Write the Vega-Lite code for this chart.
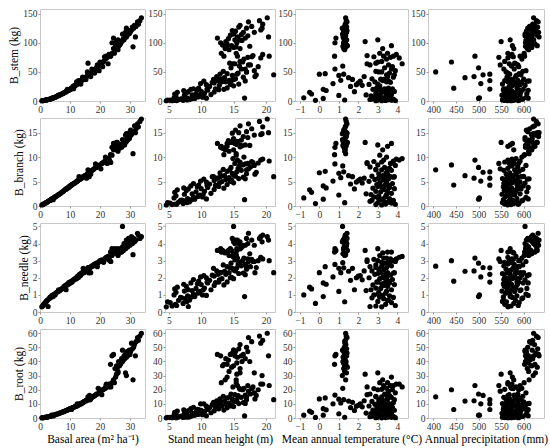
{
"$schema":"https://vega.github.io/schema/vega-lite/v6.json",
"padding":{"left":8,"top":8,"right":0,"bottom":5},
"bounds":"flush",
"spacing":{"row":17,"column":20},
"config":{"font":"Liberation Serif","view":{"stroke":"#c8c8c8"},
"axis":{"domain":false,"grid":false,"tickSize":2,"tickColor":"#999","labelFontSize":9.5,"labelColor":"#333","labelPadding":1,"labelFlush":false,"labelOverlap":false,"titleFontSize":11.5,"titleFontWeight":"normal","titleColor":"#000","titlePadding":3},
"circle":{"size":27,"color":"#000","opacity":1}},
"data":{"values":[
{"ba":33.8,"h":20.2,"mat":1.35,"ap":622,"stem":143,"branch":17.8,"needle":4.4,"root":60},
{"ba":33.3,"h":19.0,"mat":1.38,"ap":628,"stem":138,"branch":17.3,"needle":4.3,"root":58},
{"ba":32.8,"h":19.5,"mat":1.33,"ap":620,"stem":132,"branch":16.2,"needle":4.5,"root":55},
{"ba":32.0,"h":17.8,"mat":1.30,"ap":613,"stem":128,"branch":15.8,"needle":4.2,"root":54},
{"ba":31.5,"h":16.0,"mat":1.36,"ap":624,"stem":130,"branch":16.4,"needle":4.1,"root":52},
{"ba":31.2,"h":17.0,"mat":1.28,"ap":609,"stem":125,"branch":15.2,"needle":4.3,"root":50},
{"ba":30.8,"h":15.8,"mat":1.40,"ap":631,"stem":127,"branch":15.0,"needle":4.0,"root":49},
{"ba":30.5,"h":19.2,"mat":1.32,"ap":617,"stem":122,"branch":14.6,"needle":4.4,"root":53},
{"ba":30.2,"h":15.3,"mat":1.25,"ap":606,"stem":120,"branch":15.5,"needle":4.2,"root":47},
{"ba":30.0,"h":16.5,"mat":1.38,"ap":633,"stem":118,"branch":14.2,"needle":3.9,"root":45},
{"ba":29.8,"h":15.0,"mat":1.30,"ap":619,"stem":116,"branch":13.8,"needle":4.1,"root":48},
{"ba":29.5,"h":14.8,"mat":1.42,"ap":627,"stem":121,"branch":14.9,"needle":4.3,"root":46},
{"ba":29.2,"h":16.2,"mat":1.27,"ap":611,"stem":114,"branch":13.5,"needle":3.8,"root":44},
{"ba":29.0,"h":17.2,"mat":1.35,"ap":603,"stem":112,"branch":14.0,"needle":4.0,"root":47},
{"ba":28.8,"h":15.6,"mat":1.22,"ap":618,"stem":110,"branch":13.2,"needle":4.2,"root":43},
{"ba":28.5,"h":14.5,"mat":1.33,"ap":629,"stem":113,"branch":13.0,"needle":3.7,"root":45},
{"ba":28.2,"h":16.8,"mat":1.30,"ap":607,"stem":108,"branch":12.5,"needle":3.9,"root":42},
{"ba":28.0,"h":15.2,"mat":1.40,"ap":622,"stem":105,"branch":12.8,"needle":4.0,"root":44},
{"ba":27.8,"h":14.2,"mat":1.26,"ap":614,"stem":107,"branch":13.4,"needle":3.6,"root":41},
{"ba":27.5,"h":16.3,"mat":1.37,"ap":605,"stem":104,"branch":12.3,"needle":3.8,"root":40},
{"ba":27.2,"h":13.8,"mat":1.31,"ap":620,"stem":102,"branch":12.0,"needle":3.5,"root":42},
{"ba":27.0,"h":15.5,"mat":1.24,"ap":610,"stem":100,"branch":12.6,"needle":3.7,"root":39},
{"ba":26.8,"h":14.0,"mat":1.36,"ap":625,"stem":98,"branch":12.2,"needle":3.5,"root":38},
{"ba":26.5,"h":13.3,"mat":1.29,"ap":616,"stem":96,"branch":11.8,"needle":3.6,"root":37},
{"ba":26.2,"h":17.5,"mat":1.21,"ap":604,"stem":94,"branch":12.4,"needle":3.4,"root":40},
{"ba":25.8,"h":14.7,"mat":1.44,"ap":630,"stem":95,"branch":13.0,"needle":3.6,"root":36},
{"ba":25.5,"h":15.0,"mat":1.33,"ap":618,"stem":92,"branch":11.5,"needle":3.4,"root":37},
{"ba":25.0,"h":16.0,"mat":1.25,"ap":608,"stem":90,"branch":12.1,"needle":3.7,"root":35},
{"ba":31.8,"h":20.4,"mat":1.28,"ap":634,"stem":110,"branch":15.0,"needle":4.2,"root":44},
{"ba":31.0,"h":15.4,"mat":1.35,"ap":612,"stem":93,"branch":10.7,"needle":3.35,"root":27},
{"ba":28.5,"h":18.2,"mat":1.39,"ap":626,"stem":118,"branch":14.5,"needle":3.9,"root":32},
{"ba":28.8,"h":19.4,"mat":1.18,"ap":621,"stem":125,"branch":14.8,"needle":4.1,"root":30},
{"ba":24.5,"h":12.5,"mat":0.85,"ap":607,"stem":108,"branch":12.8,"needle":3.6,"root":45},
{"ba":24.0,"h":13.0,"mat":0.80,"ap":604,"stem":100,"branch":12.0,"needle":3.7,"root":44},
{"ba":23.5,"h":13.5,"mat":0.78,"ap":602,"stem":77,"branch":10.5,"needle":3.5,"root":38},
{"ba":26.0,"h":14.3,"mat":1.30,"ap":611,"stem":88,"branch":11.2,"needle":3.3,"root":33},
{"ba":32.5,"h":17.3,"mat":1.42,"ap":632,"stem":136,"branch":16.8,"needle":4.6,"root":57},
{"ba":27.5,"h":15.0,"mat":1.19,"ap":603,"stem":115,"branch":13.6,"needle":5.0,"root":48},
{"ba":0.6,"h":4.6,"mat":3.2,"ap":565,"stem":0.4,"branch":0.2,"needle":0.30,"root":0.1},
{"ba":0.9,"h":5.5,"mat":2.9,"ap":572,"stem":0.6,"branch":0.3,"needle":0.35,"root":0.2},
{"ba":1.2,"h":6.0,"mat":3.4,"ap":558,"stem":0.9,"branch":0.4,"needle":0.45,"root":0.3},
{"ba":1.5,"h":7.2,"mat":-0.2,"ap":578,"stem":1.2,"branch":0.5,"needle":0.50,"root":0.4},
{"ba":1.8,"h":5.2,"mat":3.7,"ap":590,"stem":1.5,"branch":0.6,"needle":0.55,"root":0.5},
{"ba":2.1,"h":7.8,"mat":3.0,"ap":553,"stem":1.8,"branch":0.7,"needle":0.62,"root":0.6},
{"ba":2.4,"h":6.5,"mat":3.5,"ap":582,"stem":2.2,"branch":0.8,"needle":0.68,"root":0.7},
{"ba":2.7,"h":8.0,"mat":2.6,"ap":566,"stem":2.6,"branch":0.95,"needle":0.32,"root":0.9},
{"ba":3.0,"h":7.5,"mat":3.3,"ap":596,"stem":3.0,"branch":1.05,"needle":0.78,"root":1.0},
{"ba":3.3,"h":6.8,"mat":3.8,"ap":575,"stem":3.4,"branch":1.15,"needle":0.85,"root":1.2},
{"ba":3.6,"h":8.5,"mat":3.1,"ap":555,"stem":3.9,"branch":1.3,"needle":0.88,"root":1.4},
{"ba":3.9,"h":9.0,"mat":0.2,"ap":500,"stem":4.4,"branch":1.4,"needle":0.90,"root":2.0},
{"ba":4.2,"h":7.9,"mat":3.6,"ap":585,"stem":5.0,"branch":1.5,"needle":0.95,"root":1.8},
{"ba":4.5,"h":5.8,"mat":-0.8,"ap":502,"stem":5.5,"branch":1.65,"needle":1.0,"root":2.0},
{"ba":4.8,"h":8.8,"mat":3.0,"ap":605,"stem":6.0,"branch":1.75,"needle":1.05,"root":2.2},
{"ba":5.0,"h":10.2,"mat":2.8,"ap":570,"stem":6.5,"branch":1.85,"needle":1.0,"root":2.3},
{"ba":5.3,"h":9.5,"mat":3.4,"ap":560,"stem":7.0,"branch":1.95,"needle":1.1,"root":2.5},
{"ba":2.0,"h":4.8,"mat":1.3,"ap":562,"stem":1.7,"branch":0.68,"needle":0.6,"root":0.55},
{"ba":1.0,"h":6.2,"mat":3.9,"ap":588,"stem":0.7,"branch":0.35,"needle":0.38,"root":0.2},
{"ba":3.5,"h":7.0,"mat":2.7,"ap":598,"stem":3.6,"branch":1.2,"needle":0.83,"root":1.3},
{"ba":4.0,"h":10.8,"mat":3.25,"ap":610,"stem":4.8,"branch":1.45,"needle":0.97,"root":1.6},
{"ba":2.5,"h":8.2,"mat":3.55,"ap":555,"stem":2.4,"branch":0.85,"needle":0.7,"root":0.8},
{"ba":4.4,"h":16.7,"mat":3.1,"ap":570,"stem":5.0,"branch":1.3,"needle":0.9,"root":1.5},
{"ba":5.6,"h":6.1,"mat":3.05,"ap":568,"stem":7.8,"branch":2.1,"needle":1.15,"root":2.7},
{"ba":6.0,"h":9.8,"mat":1.0,"ap":580,"stem":9.5,"branch":2.25,"needle":1.2,"root":3.0},
{"ba":6.3,"h":7.4,"mat":3.45,"ap":552,"stem":10.0,"branch":2.4,"needle":1.22,"root":3.3},
{"ba":6.6,"h":8.6,"mat":2.4,"ap":592,"stem":10.5,"branch":2.5,"needle":1.25,"root":3.5},
{"ba":6.9,"h":11.5,"mat":3.7,"ap":571,"stem":11.0,"branch":2.6,"needle":1.3,"root":3.7},
{"ba":7.2,"h":5.9,"mat":-0.4,"ap":563,"stem":12.0,"branch":2.8,"needle":1.35,"root":4.0},
{"ba":7.5,"h":9.2,"mat":3.15,"ap":607,"stem":12.5,"branch":2.9,"needle":1.38,"root":4.2},
{"ba":7.8,"h":10.5,"mat":2.9,"ap":583,"stem":13.5,"branch":3.0,"needle":1.4,"root":4.5},
{"ba":8.0,"h":7.7,"mat":3.5,"ap":557,"stem":14.0,"branch":3.15,"needle":1.5,"root":4.6},
{"ba":8.3,"h":6.3,"mat":-0.5,"ap":577,"stem":15.0,"branch":3.3,"needle":1.45,"root":4.9},
{"ba":8.5,"h":12.0,"mat":3.3,"ap":566,"stem":15.5,"branch":3.4,"needle":1.55,"root":5.1},
{"ba":8.7,"h":8.0,"mat":1.8,"ap":594,"stem":16.0,"branch":3.5,"needle":1.3,"root":5.3},
{"ba":8.9,"h":10.0,"mat":3.85,"ap":586,"stem":16.5,"branch":3.55,"needle":1.6,"root":5.5},
{"ba":9.1,"h":13.5,"mat":2.75,"ap":560,"stem":20.0,"branch":3.65,"needle":1.58,"root":5.6},
{"ba":9.3,"h":7.3,"mat":0.35,"ap":573,"stem":18.0,"branch":3.7,"needle":1.62,"root":5.8},
{"ba":9.5,"h":11.0,"mat":3.6,"ap":610,"stem":18.5,"branch":3.8,"needle":1.7,"root":6.0},
{"ba":9.7,"h":9.4,"mat":3.2,"ap":555,"stem":19.0,"branch":3.9,"needle":1.65,"root":6.2},
{"ba":9.9,"h":12.7,"mat":3.0,"ap":589,"stem":19.5,"branch":4.0,"needle":1.75,"root":6.5},
{"ba":10.0,"h":8.4,"mat":0.2,"ap":599,"stem":20.0,"branch":4.1,"needle":1.7,"root":6.6},
{"ba":6.2,"h":10.3,"mat":2.65,"ap":578,"stem":9.0,"branch":2.35,"needle":1.3,"root":3.2},
{"ba":10.3,"h":12.2,"mat":3.35,"ap":562,"stem":21,"branch":4.2,"needle":1.72,"root":6.9},
{"ba":10.5,"h":9.6,"mat":3.55,"ap":445,"stem":22,"branch":4.3,"needle":1.8,"root":6.0},
{"ba":10.7,"h":14.0,"mat":2.95,"ap":585,"stem":22.5,"branch":4.4,"needle":1.76,"root":7.2},
{"ba":11.0,"h":11.3,"mat":1.6,"ap":568,"stem":25,"branch":4.5,"needle":1.85,"root":7.4},
{"ba":11.2,"h":8.8,"mat":3.75,"ap":556,"stem":21,"branch":4.6,"needle":1.9,"root":7.6},
{"ba":11.5,"h":12.8,"mat":2.2,"ap":603,"stem":27,"branch":4.7,"needle":1.88,"root":7.9},
{"ba":11.7,"h":15.0,"mat":3.1,"ap":574,"stem":26,"branch":4.75,"needle":1.95,"root":8.1},
{"ba":12.0,"h":10.8,"mat":1.9,"ap":592,"stem":28,"branch":4.9,"needle":2.0,"root":8.4},
{"ba":12.2,"h":13.2,"mat":3.45,"ap":565,"stem":33,"branch":5.0,"needle":1.95,"root":8.6},
{"ba":12.4,"h":9.9,"mat":0.7,"ap":505,"stem":30,"branch":5.1,"needle":2.05,"root":10.0},
{"ba":12.6,"h":12.0,"mat":2.0,"ap":580,"stem":31,"branch":5.2,"needle":2.1,"root":9.0},
{"ba":12.8,"h":14.7,"mat":3.25,"ap":558,"stem":35,"branch":5.3,"needle":2.02,"root":9.2},
{"ba":13.0,"h":11.7,"mat":3.65,"ap":596,"stem":32,"branch":6.0,"needle":2.15,"root":9.4},
{"ba":13.2,"h":13.8,"mat":2.85,"ap":570,"stem":33,"branch":5.4,"needle":2.2,"root":9.7},
{"ba":13.4,"h":10.4,"mat":2.1,"ap":608,"stem":34,"branch":5.5,"needle":2.12,"root":10.0},
{"ba":13.6,"h":15.8,"mat":3.0,"ap":553,"stem":29,"branch":5.6,"needle":2.25,"root":10.2},
{"ba":13.8,"h":12.6,"mat":3.4,"ap":525,"stem":35,"branch":5.7,"needle":2.2,"root":10.0},
{"ba":14.0,"h":14.3,"mat":1.1,"ap":587,"stem":35.5,"branch":5.8,"needle":2.3,"root":10.6},
{"ba":14.2,"h":16.5,"mat":3.8,"ap":563,"stem":41,"branch":5.9,"needle":2.28,"root":10.9},
{"ba":14.4,"h":11.9,"mat":1.7,"ap":576,"stem":37,"branch":6.0,"needle":2.55,"root":11.1},
{"ba":14.6,"h":13.0,"mat":3.15,"ap":600,"stem":37.5,"branch":6.05,"needle":2.3,"root":11.4},
{"ba":14.8,"h":15.3,"mat":2.7,"ap":567,"stem":38,"branch":6.1,"needle":2.4,"root":11.7},
{"ba":10.4,"h":10.9,"mat":3.5,"ap":525,"stem":20.5,"branch":4.25,"needle":1.75,"root":6.0},
{"ba":12.3,"h":14.5,"mat":2.55,"ap":582,"stem":28.5,"branch":5.05,"needle":2.0,"root":8.5},
{"ba":13.5,"h":16.8,"mat":3.55,"ap":612,"stem":34.5,"branch":5.55,"needle":2.18,"root":10.3},
{"ba":15.0,"h":13.6,"mat":1.5,"ap":470,"stem":40,"branch":6.2,"needle":2.38,"root":12.0},
{"ba":15.3,"h":15.0,"mat":3.3,"ap":572,"stem":37,"branch":6.3,"needle":2.45,"root":12.4},
{"ba":15.5,"h":12.4,"mat":2.3,"ap":490,"stem":42,"branch":5.7,"needle":2.4,"root":12.2},
{"ba":15.8,"h":17.0,"mat":3.05,"ap":561,"stem":50,"branch":6.6,"needle":2.5,"root":13.0},
{"ba":16.0,"h":14.8,"mat":1.0,"ap":584,"stem":44,"branch":6.7,"needle":2.55,"root":13.3},
{"ba":16.2,"h":12.9,"mat":0.0,"ap":569,"stem":46,"branch":6.8,"needle":2.3,"root":13.5},
{"ba":16.5,"h":18.5,"mat":3.45,"ap":510,"stem":45,"branch":6.9,"needle":2.6,"root":16.0},
{"ba":16.7,"h":15.5,"mat":1.25,"ap":525,"stem":46,"branch":7.0,"needle":2.58,"root":13.0},
{"ba":17.0,"h":14.0,"mat":0.3,"ap":590,"stem":47,"branch":7.1,"needle":2.65,"root":14.2},
{"ba":17.3,"h":16.2,"mat":3.7,"ap":556,"stem":55,"branch":7.3,"needle":2.7,"root":14.6},
{"ba":17.6,"h":17.0,"mat":3.2,"ap":405,"stem":50,"branch":7.4,"needle":2.68,"root":15.0},
{"ba":17.9,"h":13.4,"mat":2.9,"ap":598,"stem":51,"branch":7.5,"needle":2.75,"root":15.4},
{"ba":18.2,"h":15.7,"mat":3.6,"ap":565,"stem":48,"branch":7.7,"needle":2.8,"root":15.8},
{"ba":18.5,"h":16.8,"mat":0.8,"ap":579,"stem":55,"branch":8.6,"needle":2.78,"root":16.2},
{"ba":18.8,"h":14.6,"mat":3.35,"ap":500,"stem":57,"branch":7.9,"needle":2.85,"root":17.0},
{"ba":19.1,"h":17.6,"mat":2.6,"ap":587,"stem":62,"branch":8.0,"needle":2.65,"root":17.0},
{"ba":19.4,"h":15.9,"mat":1.2,"ap":573,"stem":60,"branch":8.2,"needle":2.88,"root":21.0},
{"ba":19.7,"h":18.2,"mat":3.9,"ap":605,"stem":52,"branch":8.3,"needle":2.95,"root":17.8},
{"ba":16.4,"h":21.2,"mat":3.85,"ap":594,"stem":45,"branch":6.0,"needle":2.3,"root":13.0},
{"ba":16.9,"h":18.3,"mat":3.5,"ap":582,"stem":42,"branch":6.5,"needle":2.3,"root":13.5},
{"ba":20.0,"h":16.4,"mat":3.0,"ap":440,"stem":67,"branch":8.4,"needle":3.0,"root":20.0},
{"ba":20.3,"h":17.3,"mat":3.55,"ap":548,"stem":62,"branch":7.6,"needle":2.95,"root":19.0},
{"ba":20.6,"h":15.2,"mat":2.45,"ap":568,"stem":64,"branch":8.7,"needle":3.05,"root":16.5},
{"ba":20.9,"h":18.8,"mat":3.75,"ap":589,"stem":59,"branch":8.8,"needle":3.0,"root":20.0},
{"ba":21.2,"h":16.0,"mat":3.2,"ap":558,"stem":68,"branch":9.0,"needle":2.9,"root":20.3},
{"ba":21.5,"h":17.8,"mat":2.8,"ap":577,"stem":76,"branch":9.1,"needle":3.08,"root":20.8},
{"ba":21.8,"h":16.6,"mat":3.45,"ap":596,"stem":72,"branch":10.0,"needle":3.15,"root":21.0},
{"ba":22.1,"h":19.2,"mat":4.1,"ap":565,"stem":74,"branch":9.4,"needle":3.2,"root":24.0},
{"ba":22.4,"h":17.2,"mat":3.65,"ap":545,"stem":75,"branch":8.7,"needle":3.1,"root":23.0},
{"ba":22.7,"h":14.9,"mat":4.25,"ap":583,"stem":64,"branch":9.7,"needle":3.25,"root":22.0},
{"ba":23.0,"h":19.5,"mat":3.95,"ap":574,"stem":80,"branch":9.6,"needle":3.1,"root":24.0},
{"ba":23.3,"h":20.5,"mat":3.8,"ap":592,"stem":77,"branch":9.2,"needle":3.0,"root":23.0},
{"ba":22.0,"h":15.6,"mat":3.3,"ap":492,"stem":77,"branch":9.4,"needle":3.15,"root":23.0},
{"ba":16.0,"h":14.4,"mat":2.9,"ap":580,"stem":65,"branch":7.4,"needle":2.6,"root":15.0},
{"ba":24.0,"h":15.4,"mat":3.1,"ap":601,"stem":82,"branch":10.4,"needle":3.3,"root":25.0},
{"ba":23.6,"h":18.0,"mat":2.45,"ap":571,"stem":78,"branch":8.9,"needle":2.95,"root":22.0},
{"ba":25.5,"h":15.5,"mat":2.35,"ap":550,"stem":102,"branch":13.0,"needle":3.6,"root":31},
{"ba":26.0,"h":16.0,"mat":3.0,"ap":570,"stem":105,"branch":12.5,"needle":3.7,"root":32},
{"ba":25.2,"h":14.0,"mat":3.7,"ap":575,"stem":95,"branch":12.8,"needle":3.5,"root":29},
{"ba":24.5,"h":13.7,"mat":3.25,"ap":578,"stem":90,"branch":11.5,"needle":3.45,"root":27},
{"ba":24.8,"h":13.1,"mat":3.5,"ap":565,"stem":82,"branch":12.2,"needle":3.5,"root":25}
]},
"columns":4,
"concat":[
{"width":105,"height":92,"mark":"circle","encoding":{"x":{"field":"ba","type":"quantitative","scale":{"domain":[0,35],"nice":false,"zero":false},"axis":{"values":[0,10,20,30],"title":null}},"y":{"field":"stem","type":"quantitative","scale":{"domain":[0,158],"nice":false},"axis":{"values":[0,50,100,150],"title":"B_stem (kg)"}}}},
{"width":110,"height":92,"mark":"circle","encoding":{"x":{"field":"h","type":"quantitative","scale":{"domain":[4.4,21.4],"nice":false,"zero":false},"axis":{"values":[5,10,15,20],"title":null}},"y":{"field":"stem","type":"quantitative","scale":{"domain":[0,158],"nice":false},"axis":{"values":[0,50,100,150],"title":null}}}},
{"width":113,"height":92,"mark":"circle","encoding":{"x":{"field":"mat","type":"quantitative","scale":{"domain":[-1.25,4.55],"nice":false,"zero":false},"axis":{"values":[-1,0,1,2,3,4],"title":null}},"y":{"field":"stem","type":"quantitative","scale":{"domain":[0,158],"nice":false},"axis":{"values":[0,50,100,150],"title":null}}}},
{"width":116,"height":92,"mark":"circle","encoding":{"x":{"field":"ap","type":"quantitative","scale":{"domain":[388,645],"nice":false,"zero":false},"axis":{"values":[400,450,500,550,600],"title":null}},"y":{"field":"stem","type":"quantitative","scale":{"domain":[0,158],"nice":false},"axis":{"values":[0,50,100,150],"title":null}}}},
{"width":105,"height":88,"mark":"circle","encoding":{"x":{"field":"ba","type":"quantitative","scale":{"domain":[0,35],"nice":false,"zero":false},"axis":{"values":[0,10,20,30],"title":null}},"y":{"field":"branch","type":"quantitative","scale":{"domain":[0,18],"nice":false},"axis":{"values":[0,5,10,15],"title":"B_branch (kg)"}}}},
{"width":110,"height":88,"mark":"circle","encoding":{"x":{"field":"h","type":"quantitative","scale":{"domain":[4.4,21.4],"nice":false,"zero":false},"axis":{"values":[5,10,15,20],"title":null}},"y":{"field":"branch","type":"quantitative","scale":{"domain":[0,18],"nice":false},"axis":{"values":[0,5,10,15],"title":null}}}},
{"width":113,"height":88,"mark":"circle","encoding":{"x":{"field":"mat","type":"quantitative","scale":{"domain":[-1.25,4.55],"nice":false,"zero":false},"axis":{"values":[-1,0,1,2,3,4],"title":null}},"y":{"field":"branch","type":"quantitative","scale":{"domain":[0,18],"nice":false},"axis":{"values":[0,5,10,15],"title":null}}}},
{"width":116,"height":88,"mark":"circle","encoding":{"x":{"field":"ap","type":"quantitative","scale":{"domain":[388,645],"nice":false,"zero":false},"axis":{"values":[400,450,500,550,600],"title":null}},"y":{"field":"branch","type":"quantitative","scale":{"domain":[0,18],"nice":false},"axis":{"values":[0,5,10,15],"title":null}}}},
{"width":105,"height":89,"mark":"circle","encoding":{"x":{"field":"ba","type":"quantitative","scale":{"domain":[0,35],"nice":false,"zero":false},"axis":{"values":[0,10,20,30],"title":null}},"y":{"field":"needle","type":"quantitative","scale":{"domain":[0,5.2],"nice":false},"axis":{"values":[0,1,2,3,4,5],"title":"B_needle (kg)"}}}},
{"width":110,"height":89,"mark":"circle","encoding":{"x":{"field":"h","type":"quantitative","scale":{"domain":[4.4,21.4],"nice":false,"zero":false},"axis":{"values":[5,10,15,20],"title":null}},"y":{"field":"needle","type":"quantitative","scale":{"domain":[0,5.2],"nice":false},"axis":{"values":[0,1,2,3,4,5],"title":null}}}},
{"width":113,"height":89,"mark":"circle","encoding":{"x":{"field":"mat","type":"quantitative","scale":{"domain":[-1.25,4.55],"nice":false,"zero":false},"axis":{"values":[-1,0,1,2,3,4],"title":null}},"y":{"field":"needle","type":"quantitative","scale":{"domain":[0,5.2],"nice":false},"axis":{"values":[0,1,2,3,4,5],"title":null}}}},
{"width":116,"height":89,"mark":"circle","encoding":{"x":{"field":"ap","type":"quantitative","scale":{"domain":[388,645],"nice":false,"zero":false},"axis":{"values":[400,450,500,550,600],"title":null}},"y":{"field":"needle","type":"quantitative","scale":{"domain":[0,5.2],"nice":false},"axis":{"values":[0,1,2,3,4,5],"title":null}}}},
{"width":105,"height":89,"mark":"circle","encoding":{"x":{"field":"ba","type":"quantitative","scale":{"domain":[0,35],"nice":false,"zero":false},"axis":{"values":[0,10,20,30],"title":"Basal area (m² ha⁻¹)"}},"y":{"field":"root","type":"quantitative","scale":{"domain":[0,63],"nice":false},"axis":{"values":[0,10,20,30,40,50,60],"title":"B_root (kg)"}}}},
{"width":110,"height":89,"mark":"circle","encoding":{"x":{"field":"h","type":"quantitative","scale":{"domain":[4.4,21.4],"nice":false,"zero":false},"axis":{"values":[5,10,15,20],"title":"Stand mean height (m)"}},"y":{"field":"root","type":"quantitative","scale":{"domain":[0,63],"nice":false},"axis":{"values":[0,10,20,30,40,50,60],"title":null}}}},
{"width":113,"height":89,"mark":"circle","encoding":{"x":{"field":"mat","type":"quantitative","scale":{"domain":[-1.25,4.55],"nice":false,"zero":false},"axis":{"values":[-1,0,1,2,3,4],"title":"Mean annual temperature (°C)"}},"y":{"field":"root","type":"quantitative","scale":{"domain":[0,63],"nice":false},"axis":{"values":[0,10,20,30,40,50,60],"title":null}}}},
{"width":116,"height":89,"mark":"circle","encoding":{"x":{"field":"ap","type":"quantitative","scale":{"domain":[388,645],"nice":false,"zero":false},"axis":{"values":[400,450,500,550,600],"title":"Annual precipitation (mm)"}},"y":{"field":"root","type":"quantitative","scale":{"domain":[0,63],"nice":false},"axis":{"values":[0,10,20,30,40,50,60],"title":null}}}}
]
}
